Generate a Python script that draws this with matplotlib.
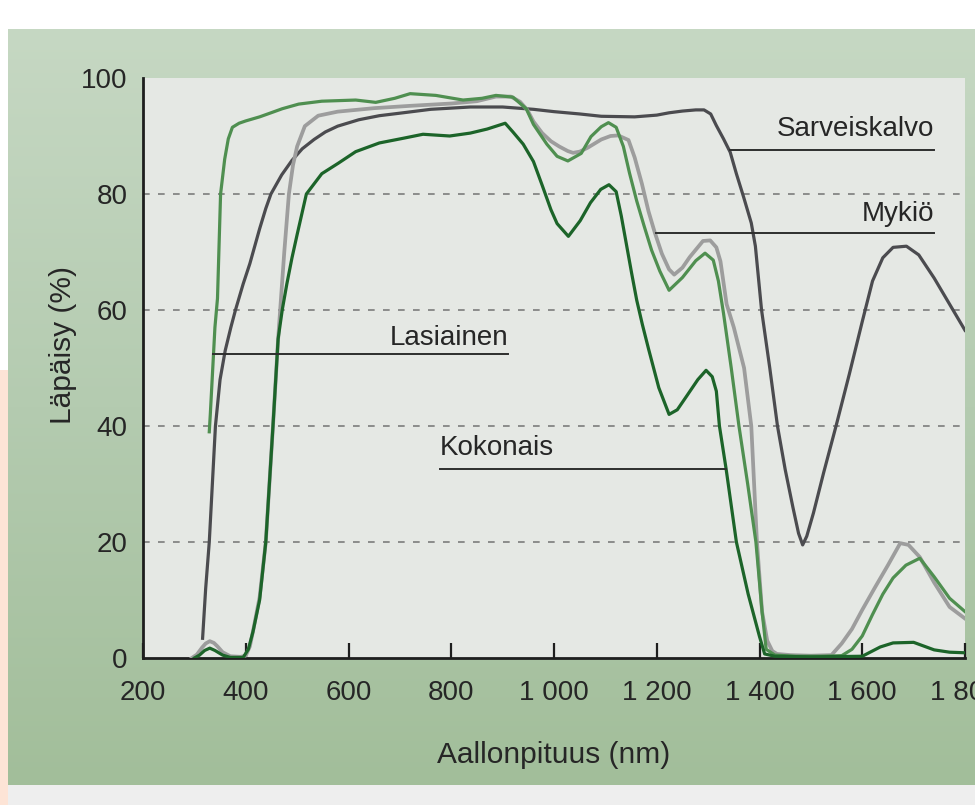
import numpy as np
import matplotlib
matplotlib.use("Agg")
import matplotlib.pyplot as plt
from matplotlib.colors import LinearSegmentedColormap
from matplotlib.ticker import FixedLocator

plt.rcParams['font.family'] = ['Liberation Sans', 'DejaVu Sans']

# values: wavelength (nm) and transmission (%)
sarveis_nm = [316, 322, 329, 335, 341, 350, 360, 371, 380, 395, 408, 427, 439, 449,
              470, 490, 510, 533, 555, 579, 620, 660, 706, 760, 837, 900, 960, 1000,
              1050, 1092, 1157, 1200, 1224, 1250, 1276, 1292, 1305, 1316, 1330, 1343,
              1355, 1369, 1384, 1392, 1404, 1420, 1435, 1450, 1465, 1476, 1484, 1492,
              1505, 1525, 1549, 1575, 1600, 1620, 1640, 1660, 1686, 1710, 1740, 1770, 1800]
sarveis_val = [3.4, 12, 20, 30, 40, 48, 53, 57, 60, 64.5, 68, 74, 77.5, 80,
               83.3, 85.8, 87.8, 89.4, 90.7, 91.7, 92.8, 93.5, 94, 94.6, 95, 95, 94.6, 94.2,
               93.8, 93.4, 93.3, 93.6, 94, 94.3, 94.5, 94.5, 93.8, 91.8, 89.5, 87.2,
               83.5, 79.5, 75, 71, 60, 50, 40, 32.5, 26, 21.5, 19.5, 21,
               25, 32, 40, 49, 58, 65, 69, 70.8, 71, 69.5, 65.5, 61, 56.5]

mykio_nm = [295, 305, 315, 322, 330, 338, 345, 355, 370, 390, 400, 408, 415, 427, 439,
            453, 463, 467, 475, 484, 492, 500, 515, 541, 579, 650, 720, 800, 850, 887,
            916, 934, 948, 960, 977, 994, 1010, 1027, 1037, 1050, 1066, 1092, 1110, 1125,
            1145, 1157, 1171, 1184, 1196, 1210, 1224, 1234, 1250, 1264, 1290, 1304, 1316,
            1324, 1336, 1350, 1370, 1384, 1395, 1405, 1415, 1425, 1434, 1460, 1500, 1540,
            1560, 1580, 1600, 1625, 1650, 1674, 1690, 1712, 1740, 1770, 1800]
mykio_val = [0, 0.6, 1.8, 2.5, 2.9, 2.6, 2, 1, 0.3, 0.2, 0.4, 2, 5, 10.5, 20,
             40, 55, 60, 70, 80, 85, 88.2, 91.7, 93.5, 94.2, 94.8, 95.2, 95.6, 96, 96.8,
             96.8, 95.9, 94.5, 92.5, 90.5, 89.1, 88.2, 87.4, 87.1, 87.3, 88, 89.4, 90, 90.1,
             89.3, 86.3, 81.8, 77, 73.4, 69.7, 67, 66.1, 67.3, 69.1, 71.9, 72, 70.8,
             68.4, 61, 57, 50, 40, 20, 8, 3, 1.2, 0.7, 0.5, 0.4, 0.5,
             2.5, 5, 8.3, 12.2, 16, 19.8, 19.5, 17.4, 13, 8.8, 6.8]

lasi_nm = [329, 331, 334, 337, 340, 345, 351, 359, 366, 374, 387, 400, 427, 446, 471,
           503, 548, 614, 653, 690, 720, 770, 823, 860, 887, 920, 946, 960, 973, 986,
           1006, 1027, 1053, 1072, 1092, 1106, 1121, 1135, 1147, 1161, 1175, 1190, 1206,
           1224, 1250, 1276, 1294, 1310, 1320, 1330, 1345, 1360, 1377, 1393, 1405, 1413,
           1430, 1470, 1520, 1560, 1580, 1600, 1620, 1640, 1660, 1685, 1712, 1740, 1770, 1800]
lasi_val = [39, 42, 47, 52, 57, 62, 80, 86, 89.5, 91.5, 92.2, 92.6, 93.3, 93.9, 94.7,
            95.5, 96, 96.2, 95.8, 96.5, 97.3, 97, 96.2, 96.5, 97, 96.7, 94.7, 92, 90.3, 88.6,
            86.5, 85.7, 87, 89.9, 91.6, 92.3, 91.5, 88.2, 83.6, 78.8, 74.6, 70.3, 66.7,
            63.4, 65.6, 68.5, 69.8, 68.6, 65, 59.4, 50, 40, 30, 20, 8, 1.5,
            0.5, 0.3, 0.3, 0.4, 1.5, 3.8, 7.5, 11, 13.8, 16, 17.2, 14, 10.3, 8]

koko_nm = [300, 310, 320, 330, 340, 355, 370, 395, 405, 414, 427, 439, 453, 463, 471,
           480, 490, 500, 518, 548, 580, 614, 660, 706, 745, 797, 837, 870, 905, 920,
           940, 960, 977, 994, 1006, 1028, 1051, 1071, 1091, 1107, 1121, 1131, 1141, 1151,
           1161, 1172, 1184, 1204, 1224, 1240, 1257, 1280, 1296, 1308, 1316, 1322, 1335,
           1355, 1378, 1400, 1410, 1430, 1500, 1600, 1635, 1660, 1700, 1740, 1770, 1800]
koko_val = [0, 0.5, 1.3, 1.7, 1.3, 0.5, 0.1, 0.1, 1.5, 4.5, 10, 20, 40, 55, 60,
            64.5, 69, 73, 80, 83.5, 85.3, 87.3, 88.8, 89.6, 90.3, 90, 90.5, 91.2, 92.2, 90.7,
            88.6, 85.6, 81.5, 77.3, 74.9, 72.7, 75.4, 78.5, 80.8, 81.6, 80.4, 76.2, 71.3, 66.4,
            61.7, 57.5, 53.3, 46.6, 42, 42.8, 45, 48, 49.6, 48.5, 46, 40, 32.6,
            20, 11, 3.7, 0.7, 0.3, 0.2, 0.3, 1.9, 2.6, 2.7, 1.4, 1, 0.9]

# curve labels: text, leader line start/end (nm), line level, text x, text baseline, align
labels = [
    ("Sarveiskalvo", 1343, 1740, 87.5, 1740, 90.0, "right"),
    ("Mykiö", 1198, 1740, 73.3, 1740, 75.4, "right"),
    ("Lasiainen", 337, 911, 52.4, 911, 54.0, "right"),
    ("Kokonais", 778, 1335, 32.6, 778, 35.0, "left"),
]

xticks = [200, 400, 600, 800, 1000, 1200, 1400, 1600, 1800]
xticklabels = ["200", "400", "600", "800", "1 000", "1 200", "1 400", "1 600", "1 800"]
yticks = [0, 20, 40, 60, 80, 100]
grid_levels = [20, 40, 60, 80]

fig = plt.figure(figsize=(9.75, 8.05), dpi=100, facecolor="white")

# page background (green printed panel, peach strip on the left)
bg = fig.add_axes([0, 0, 1, 1], zorder=-5)
bg.set_xlim(0, 1)
bg.set_ylim(0, 1)
bg.axis("off")
cmap = LinearSegmentedColormap.from_list("pg", ["#a2be9a", "#b4cbb0", "#c6d8c3"])
grad = np.linspace(0, 1, 256).reshape(-1, 1)
bg.imshow(grad, cmap=cmap, origin="lower", aspect="auto",
          extent=(8 / 975, 1, 20 / 805, 1 - 30 / 805))
bg.add_patch(plt.Rectangle((0, 0), 8 / 975, 435 / 805, color="#fde4d6", lw=0))
bg.add_patch(plt.Rectangle((8 / 975, 0), 1, 20 / 805, color="#eeeeee", lw=0))

ax = fig.add_axes([143 / 975, 147 / 805, 822 / 975, 580 / 805])
ax.set_facecolor("#e5e8e4")

for lvl in grid_levels:
    ax.axhline(lvl, color="#7c7c7c", lw=1.2, ls=(0, (4, 5)), zorder=1)

ax.plot(sarveis_nm, sarveis_val, color="#4b4b4f", lw=2.3, zorder=3)
ax.plot(mykio_nm, mykio_val, color="#9d9d9d", lw=2.7, zorder=3)
ax.plot(lasi_nm, lasi_val, color="#4f8f50", lw=2.3, zorder=4)
ax.plot(koko_nm, koko_val, color="#1c6429", lw=2.3, zorder=4)

for name, x0, x1, yl, xt, yt, ha in labels:
    ax.plot([x0, x1], [yl, yl], color="#2e2e2e", lw=1.4, zorder=5)
    ax.text(xt, yt, name, ha=ha, va="baseline", fontsize=20, color="#262626")

ax.set_xlim(200, 1800)
ax.set_ylim(0, 100)
for s in ["top", "right"]:
    ax.spines[s].set_visible(False)
for s in ["left", "bottom"]:
    ax.spines[s].set_color("#1e1e1e")
    ax.spines[s].set_linewidth(2)

ax.set_xticks(xticks)
ax.set_xticklabels(xticklabels)
ax.set_yticks(yticks)
ax.tick_params(axis="x", direction="in", length=11, width=1.6, color="#1e1e1e",
               pad=16, labelsize=20, labelcolor="#262626")
ax.tick_params(axis="y", length=0, pad=11, labelsize=20, labelcolor="#262626")
ax.yaxis.set_minor_locator(FixedLocator([100]))
ax.tick_params(axis="y", which="minor", direction="in", length=11, width=2, color="#1e1e1e")

ax.set_xlabel("Aallonpituus (nm)", fontsize=21.5, color="#262626")
ax.xaxis.set_label_coords(0.5, -0.143)
ax.set_ylabel("Läpäisy (%)", fontsize=21.5, color="#262626")
ax.yaxis.set_label_coords(-0.080, 0.54)

fig.savefig("out.png", dpi=100, facecolor=fig.get_facecolor())
